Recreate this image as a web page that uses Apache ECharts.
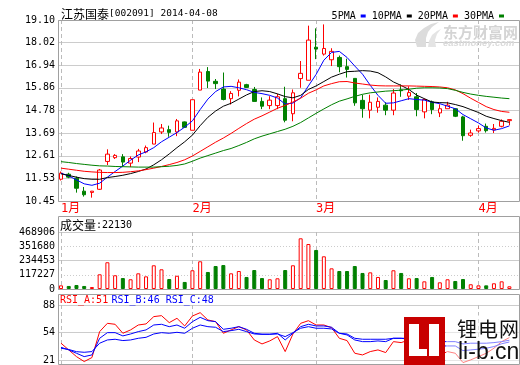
<!DOCTYPE html>
<html><head><meta charset="utf-8">
<script src="https://cdn.jsdelivr.net/npm/echarts@6/dist/echarts.min.js"></script>
<style>html,body{margin:0;padding:0;background:#fff}#c{width:520px;height:365px}</style>
</head><body><div id="c"></div>
<script>
const stockName = '江苏国泰';
const stockCode = '[002091]';
const stockDate = '2014-04-08';
const dates = ['01-08','01-09','01-10','01-13','01-14','01-15','01-16','01-17','01-20','01-21','01-22','01-23','01-24','01-27','01-28','01-29','01-30',
 '02-07','02-10','02-11','02-12','02-13','02-14','02-17','02-18','02-19','02-20','02-21','02-24','02-25','02-26','02-27','02-28',
 '03-03','03-04','03-05','03-06','03-07','03-10','03-11','03-12','03-13','03-14','03-17','03-18','03-19','03-20','03-21','03-24','03-25','03-26','03-27','03-28','03-31',
 '04-01','04-02','04-03','04-04','04-08'];
const open  = [11.49,11.73,11.54,10.92,10.86,11.01,12.34,12.52,12.56,12.26,12.55,12.79,13.17,13.75,13.86,13.75,14.23,13.83,15.75,16.64,16.17,15.80,15.34,15.74,16.01,15.78,15.21,15.01,15.01,15.34,14.62,16.30,16.22,17.80,17.47,17.20,17.31,16.87,16.31,15.26,14.79,14.93,15.03,14.79,15.76,15.46,15.43,14.71,15.19,14.66,14.86,14.86,14.47,13.59,13.80,14.02,13.85,14.02,14.29];
const close = [11.78,11.59,11.06,10.75,10.92,11.93,12.69,12.63,12.31,12.48,12.84,13.00,13.72,13.94,13.73,14.28,13.97,15.29,16.61,16.18,16.06,15.30,15.59,16.13,15.88,15.21,14.98,15.27,15.43,14.31,15.62,16.55,18.14,17.71,17.74,17.60,16.87,16.74,15.14,14.86,15.17,15.21,14.79,15.61,15.72,15.63,14.82,15.30,14.82,14.86,15.03,14.50,13.57,13.70,13.91,13.81,13.92,14.26,14.34];
const low   = [11.43,11.54,10.85,10.66,10.61,10.98,12.17,12.46,12.07,12.07,12.31,12.73,13.17,13.65,13.52,13.55,13.95,13.83,15.75,15.85,15.80,15.26,15.06,15.45,15.85,15.21,14.84,14.84,14.84,14.21,14.26,15.86,16.22,17.23,17.40,16.90,16.60,16.35,15.00,14.43,14.40,14.67,14.55,14.55,15.43,15.28,14.50,14.40,14.60,14.46,14.86,14.46,13.33,13.52,13.72,13.72,13.70,13.97,14.07];
const high  = [11.86,11.80,11.62,11.12,10.93,11.98,12.92,12.69,12.69,12.58,12.94,13.10,14.20,14.13,14.05,14.37,14.25,15.29,16.76,16.85,16.28,16.59,15.70,16.26,16.05,15.90,15.40,15.46,15.57,15.91,15.78,17.14,18.83,18.70,18.89,17.75,17.40,17.25,16.31,15.53,15.53,15.40,15.17,15.80,16.02,15.93,15.61,15.35,15.25,15.07,15.19,14.88,14.52,13.86,14.05,14.15,14.13,14.35,14.34];
const volume = [30000,25000,33000,25000,16000,121000,220000,113000,90000,80000,129000,104000,195000,162000,82000,109000,58000,154000,228000,140000,189000,197000,129000,148000,99000,156000,90000,80000,88000,156000,195000,417000,370000,321000,269000,170000,148000,148000,189000,132000,137000,99000,74000,154000,132000,88000,90000,63000,99000,55000,80000,66000,82000,39000,30000,30000,47000,63000,22130];
const ma5  = [11.78,11.65,11.46,11.27,11.20,11.30,11.59,11.86,12.12,12.40,12.65,12.80,13.00,13.28,13.50,13.72,13.98,14.28,14.82,15.32,15.68,15.90,15.93,15.86,15.77,15.64,15.58,15.50,15.37,15.08,15.13,15.38,15.95,16.50,17.18,17.55,17.60,17.31,16.90,16.51,15.98,15.50,15.12,15.14,15.24,15.34,15.30,15.27,15.17,15.10,14.98,14.86,14.58,14.38,14.18,13.94,13.83,13.91,14.04];
const ma10 = [11.75,11.67,11.59,11.52,11.49,11.49,11.57,11.62,11.68,11.76,11.86,11.98,12.18,12.42,12.70,13.00,13.28,13.60,14.05,14.45,14.75,14.98,15.12,15.32,15.52,15.68,15.72,15.68,15.57,15.44,15.38,15.50,15.78,15.95,16.16,16.37,16.51,16.63,16.65,16.68,16.66,16.58,16.38,16.14,15.97,15.78,15.51,15.34,15.18,15.15,15.14,15.06,14.96,14.82,14.68,14.50,14.39,14.29,14.21];
const ma20 = [12.02,11.97,11.92,11.87,11.84,11.82,11.81,11.81,11.82,11.85,11.89,11.95,12.02,12.10,12.19,12.29,12.42,12.60,12.82,13.04,13.26,13.46,13.68,13.92,14.15,14.36,14.52,14.70,14.88,15.02,15.18,15.36,15.60,15.76,15.95,16.06,16.15,16.16,16.09,16.04,15.99,15.96,15.95,15.95,15.95,15.95,15.94,15.93,15.92,15.90,15.86,15.76,15.58,15.36,15.16,14.96,14.82,14.73,14.69];
const ma30 = [12.33,12.29,12.24,12.20,12.16,12.13,12.12,12.10,12.09,12.08,12.07,12.07,12.07,12.09,12.11,12.15,12.22,12.35,12.50,12.62,12.74,12.86,12.96,13.10,13.25,13.42,13.55,13.66,13.77,13.88,14.02,14.20,14.42,14.64,14.85,15.05,15.22,15.33,15.45,15.55,15.62,15.66,15.70,15.72,15.75,15.79,15.84,15.86,15.86,15.85,15.82,15.74,15.64,15.56,15.50,15.45,15.41,15.37,15.34];
const rsiA = [44.6,37.0,29.4,23.8,28.3,57.8,67.2,66.1,55.9,59.7,65.3,66.5,74.8,75.9,68.0,72.9,64.2,75.5,79.3,71.0,69.1,55.9,59.7,63.4,59.7,48.3,43.8,47.2,52.1,35.1,55.1,67.2,70.2,65.3,65.3,62.3,50.2,47.6,33.2,31.3,35.1,37.0,34.0,46.4,45.3,48.3,35.1,42.7,37.0,31.3,35.1,33.2,22.6,25.7,29.4,33.2,38.9,46.4,51];
const rsiB = [40.0,37.0,33.2,29.4,31.3,50.2,56.6,56.6,52.9,55.1,57.8,59.7,65.3,66.1,63.4,65.3,61.6,69.1,74.0,70.2,69.1,60.4,61.6,63.4,60.4,55.9,54.8,54.8,55.9,48.3,55.9,63.4,66.1,64.2,64.2,62.7,55.9,54.0,48.3,46.4,46.4,47.2,46.4,50.2,50.2,49.1,43.4,45.3,43.4,41.5,41.5,41.5,36.2,37.0,37.8,38.9,40.8,44.0,46];
const rsiC = [38.9,37.5,35.0,34.3,35.1,44.6,48.3,49.1,47.6,48.3,50.2,51.3,55.1,56.6,55.9,57.0,55.9,61.6,65.3,63.4,62.7,57.8,58.9,60.4,57.8,55.1,54.8,54.8,55.1,52.1,56.6,61.6,63.4,61.6,61.6,60.8,55.9,55.1,50.2,49.1,49.1,49.1,49.1,50.2,50.2,50.2,47.6,48.3,47.6,46.4,46.4,46.4,43.8,44.6,44.6,44.6,45.3,46.4,48];
const priceTicks = ['10.45','11.53','12.61','13.69','14.78','15.86','16.94','18.02','19.10'];
const volTicks = ['0','117227','234453','351680','468906'];
const rsiTicks = ['21','54','88'];

const MONO = "'DejaVu Sans Mono', monospace";
const CJK = "'Noto Sans CJK SC'";
const isMonthStart = i => i === 0 || dates[i].slice(0, 2) !== dates[i - 1].slice(0, 2);
const last = dates.length - 1;
const PLOT = {left: 61, width: 448.4};
const FULL = {left: 58, width: 461};
const dash = {show: true, interval: (i) => isMonthStart(i), lineStyle: {color: '#bbbbbb', type: [4, 3], width: 1}};
const gridLine = {color: '#cccccc', width: 1};
const lbl = {fontFamily: MONO, fontSize: 10, color: '#000', margin: 3};

const chart = echarts.init(document.getElementById('c'), null, {renderer: 'canvas'});
chart.setOption({
  animation: false,
  backgroundColor: '#ffffff',
  legend: {
    data: ['5PMA', '10PMA', '20PMA', '30PMA'], right: 11, top: 6, align: 'right', icon: 'rect',
    itemWidth: 5, itemHeight: 3, itemGap: 6, selectedMode: false,
    textStyle: {fontFamily: MONO, fontSize: 10, color: '#000'}
  },
  grid: [
    {left: FULL.left, width: FULL.width, top: 20, height: 181},
    {left: PLOT.left, width: PLOT.width, top: 20, height: 181},
    {left: FULL.left, width: FULL.width, top: 232, height: 57},
    {left: PLOT.left, width: PLOT.width, top: 232, height: 57},
    {left: FULL.left, width: FULL.width, top: 305, height: 59},
    {left: PLOT.left, width: PLOT.width, top: 305, height: 59}
  ],
  xAxis: [
    {type: 'value', gridIndex: 0, show: false},
    {type: 'category', gridIndex: 1, data: dates, boundaryGap: false,
     axisLine: {show: false}, axisTick: {show: false},
     axisLabel: {interval: (i) => isMonthStart(i), formatter: (v) => parseInt(v.slice(0, 2), 10) + '月',
                 color: '#ff0000', fontSize: 12, fontFamily: "'DejaVu Sans Mono','Noto Sans CJK SC'", align: 'left', margin: 2},
     splitLine: dash},
    {type: 'value', gridIndex: 2, show: false},
    {type: 'category', gridIndex: 3, data: dates, boundaryGap: false,
     axisLine: {show: false}, axisTick: {show: false}, axisLabel: {show: false}, splitLine: dash},
    {type: 'value', gridIndex: 4, show: false},
    {type: 'category', gridIndex: 5, data: dates, boundaryGap: false,
     axisLine: {show: false}, axisTick: {show: false}, axisLabel: {show: false}, splitLine: dash}
  ],
  yAxis: [
    {type: 'value', gridIndex: 0, min: 0, max: priceTicks.length - 1, interval: 1,
     axisLine: {show: false}, axisTick: {show: false},
     axisLabel: Object.assign({formatter: (v) => priceTicks[Math.round(v)]}, lbl),
     splitLine: {show: true, lineStyle: gridLine}},
    {type: 'value', gridIndex: 1, min: 10.45, max: 19.10, show: false},
    {type: 'value', gridIndex: 2, min: 0, max: volTicks.length - 1, interval: 1,
     axisLine: {show: false}, axisTick: {show: false},
     axisLabel: Object.assign({formatter: (v) => volTicks[Math.round(v)]}, lbl),
     splitLine: {show: true, lineStyle: {color: '#cccccc', width: 1, type: [1, 2]}}},
    {type: 'value', gridIndex: 2, min: 0, max: volTicks.length - 1, interval: 2,
     axisLine: {show: false}, axisTick: {show: false}, axisLabel: {show: false},
     splitLine: {show: true, lineStyle: gridLine}},
    {type: 'value', gridIndex: 3, min: 0, max: 468906, show: false},
    {type: 'value', gridIndex: 4, min: 0, max: rsiTicks.length - 1, interval: 1,
     axisLine: {show: false}, axisTick: {show: false},
     axisLabel: Object.assign({formatter: (v) => rsiTicks[Math.round(v)]}, lbl),
     splitLine: {show: true, lineStyle: gridLine}},
    {type: 'value', gridIndex: 5, min: 21, max: 88, show: false}
  ],
  series: [
    {type: 'candlestick', xAxisIndex: 1, yAxisIndex: 1, barWidth: 4, z: 2, silent: true,
     data: dates.map((d, i) => [open[i], close[i], low[i], high[i]]),
     itemStyle: {color: '#ffffff', color0: '#008000', borderColor: '#ff0000', borderColor0: '#008000', borderWidth: 1}},
    {name: '5PMA', type: 'line', xAxisIndex: 1, yAxisIndex: 1, data: ma5, showSymbol: false, z: 3, silent: true, color: '#0000ff', lineStyle: {width: 1}},
    {name: '10PMA', type: 'line', xAxisIndex: 1, yAxisIndex: 1, data: ma10, showSymbol: false, z: 3, silent: true, color: '#000000', lineStyle: {width: 1}},
    {name: '20PMA', type: 'line', xAxisIndex: 1, yAxisIndex: 1, data: ma20, showSymbol: false, z: 3, silent: true, color: '#ff0000', lineStyle: {width: 1}},
    {name: '30PMA', type: 'line', xAxisIndex: 1, yAxisIndex: 1, data: ma30, showSymbol: false, z: 3, silent: true, color: '#008000', lineStyle: {width: 1}},
    {type: 'bar', xAxisIndex: 3, yAxisIndex: 4, barWidth: 4, silent: true,
     data: volume.map((v, i) => ({value: v, itemStyle: close[i] >= open[i]
        ? {color: '#ffffff', borderColor: '#ff0000', borderWidth: 1}
        : {color: '#008000', borderColor: '#008000', borderWidth: 1}}))},
    {name: 'RSI_A', type: 'line', xAxisIndex: 5, yAxisIndex: 6, data: rsiA, showSymbol: false, silent: true, color: '#ff0000', lineStyle: {width: 1}},
    {name: 'RSI_B', type: 'line', xAxisIndex: 5, yAxisIndex: 6, data: rsiB, showSymbol: false, silent: true, color: '#0000ff', lineStyle: {width: 1}},
    {name: 'RSI_C', type: 'line', xAxisIndex: 5, yAxisIndex: 6, data: rsiC, showSymbol: false, silent: true, color: '#0000ff', lineStyle: {width: 1}}
  ],
  graphic: [
    {type: 'rect', silent: true, z: 100, shape: {x: 58.5, y: 20.5, width: 461, height: 181}, style: {fill: 'none', stroke: '#a0a0a0', lineWidth: 1}},
    {type: 'rect', silent: true, z: 100, shape: {x: 58.5, y: 216.5, width: 461, height: 73}, style: {fill: 'none', stroke: '#a0a0a0', lineWidth: 1}},
    {type: 'rect', silent: true, z: 100, shape: {x: 58.5, y: 294.5, width: 461, height: 70}, style: {fill: 'none', stroke: '#a0a0a0', lineWidth: 1}},
    {type: 'text', silent: true, z: 100, x: 61, y: 14,
     style: {text: '{a|' + stockName + '}{b|' + stockCode + ' ' + stockDate + '}', verticalAlign: 'middle',
             rich: {a: {fontFamily: CJK, fontSize: 12, fill: '#000'}, b: {fontFamily: MONO, fontSize: 9.5, fill: '#000'}}}},
    {type: 'text', silent: true, z: 100, x: 60, y: 225,
     style: {text: '{a|成交量}{b|:' + volume[last] + '}', verticalAlign: 'middle',
             rich: {a: {fontFamily: CJK, fontSize: 12, fill: '#000'}, b: {fontFamily: MONO, fontSize: 10, fill: '#000'}}}},
    {type: 'text', silent: true, z: 100, x: 60, y: 300.5,
     style: {text: '{r|RSI_A:' + rsiA[last] + '} {b|RSI_B:' + rsiB[last] + ' RSI_C:' + rsiC[last] + '}', verticalAlign: 'middle',
             rich: {r: {fontFamily: MONO, fontSize: 10, fill: '#ff0000'}, b: {fontFamily: MONO, fontSize: 10, fill: '#0000ff'}}}},
    {type: 'polygon', silent: true, z: 90, shape: {points: [[417,47],[415,40],[418,33],[424,28],[431,24],[439,22],[432,27],[428,32],[426,38],[426,47]]}, style: {fill: '#dcdcdc'}},
    {type: 'polygon', silent: true, z: 90, shape: {points: [[428,47],[429,41],[432,35],[437,31],[441,29],[437,34],[435,40],[436,47]]}, style: {fill: '#e4e4e4'}},
    {type: 'text', silent: true, z: 90, x: 443, y: 32,
     style: {text: '东方财富网', verticalAlign: 'middle', fontFamily: CJK, fontSize: 15, fontWeight: 'bold', fill: '#d4d4d4'}},
    {type: 'text', silent: true, z: 90, x: 443, y: 43,
     style: {text: 'eastmoney.com', verticalAlign: 'middle', fontFamily: "'Liberation Sans'", fontSize: 9.5, fontWeight: 'bold', fontStyle: 'italic', fill: '#dadada'}},
    {type: 'rect', silent: true, z: 110, shape: {x: 446, y: 315, width: 73, height: 49}, style: {fill: 'rgba(255,255,255,0.5)'}},
    {type: 'rect', silent: true, z: 111, shape: {x: 404, y: 317, width: 41, height: 48}, style: {fill: '#c80000'}},
    {type: 'rect', silent: true, z: 112, shape: {x: 409, y: 324, width: 10, height: 32}, style: {fill: '#ffffff'}},
    {type: 'rect', silent: true, z: 112, shape: {x: 409, y: 349, width: 18, height: 7}, style: {fill: '#ffffff'}},
    {type: 'rect', silent: true, z: 112, shape: {x: 429, y: 324, width: 10, height: 32}, style: {fill: '#ffffff'}},
    {type: 'text', silent: true, z: 112, x: 457, y: 329, style: {text: '锂', verticalAlign: 'middle', fontFamily: CJK, fontSize: 20, fill: '#111'}},
    {type: 'text', silent: true, z: 112, x: 478, y: 329, style: {text: '电', verticalAlign: 'middle', fontFamily: CJK, fontSize: 20, fill: '#111'}},
    {type: 'text', silent: true, z: 112, x: 499, y: 329, style: {text: '网', verticalAlign: 'middle', fontFamily: CJK, fontSize: 20, fill: '#111'}},
    {type: 'text', silent: true, z: 112, x: 458, y: 353, style: {text: 'li-b.cn', verticalAlign: 'middle', fontFamily: "'Liberation Sans'", fontSize: 23, fill: '#111'}}
  ]
});
</script></body></html>
